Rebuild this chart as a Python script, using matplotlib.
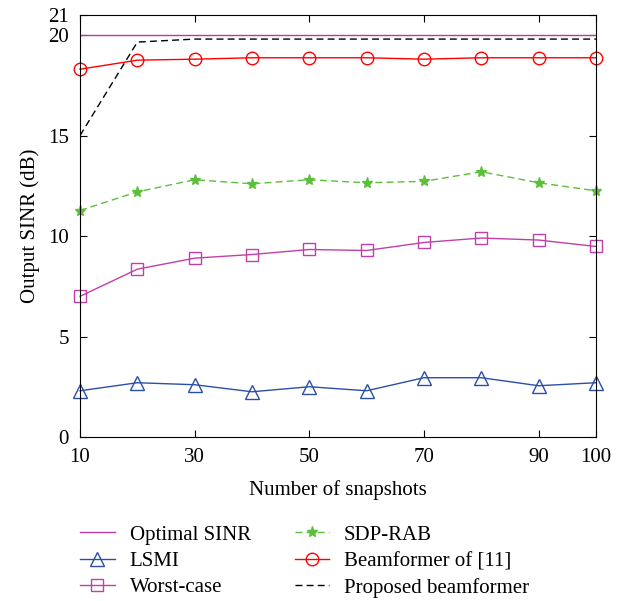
import matplotlib
matplotlib.use("Agg")
import matplotlib.pyplot as plt

plt.rcParams["font.family"] = ["Liberation Serif", "DejaVu Serif"]
plt.rcParams["font.size"] = 15

snapshots = [10, 20, 30, 40, 50, 60, 70, 80, 90, 100]
optimal = [20.0] * 10
lsmi = [2.3, 2.7, 2.6, 2.25, 2.5, 2.3, 2.95, 2.95, 2.55, 2.7]
worst_case = [7.0, 8.35, 8.9, 9.08, 9.33, 9.28, 9.68, 9.9, 9.8, 9.48]
sdp_rab = [11.27, 12.2, 12.8, 12.6, 12.8, 12.65, 12.72, 13.2, 12.65, 12.25]
bf11 = [18.3, 18.75, 18.8, 18.87, 18.87, 18.87, 18.8, 18.87, 18.87, 18.87]
proposed = [15.0, 19.65, 19.8, 19.8, 19.8, 19.8, 19.8, 19.8, 19.8, 19.8]

fig = plt.figure(figsize=(6.31, 6.01), dpi=100)
ax = fig.add_axes([0.1268, 0.2729, 0.8177, 0.7022])

ax.plot(snapshots, optimal, color="#b83ca0", lw=1.0, label="Optimal SINR")
ax.plot(snapshots, sdp_rab, color="#5cbf3a", lw=1.0, ls=(0, (5, 3)), marker="*",
        markersize=8, clip_on=False, label="SDP-RAB")
ax.plot(snapshots, lsmi, color="#2a4fa8", lw=1.0, marker="^", markersize=10,
        markerfacecolor="none", markeredgewidth=1.0, clip_on=False, label="LSMI")
ax.plot(snapshots, bf11, color="#ff0000", lw=1.0, marker="o", markersize=9,
        markerfacecolor="none", markeredgewidth=1.0, clip_on=False,
        label="Beamformer of [11]")
ax.plot(snapshots, worst_case, color="#c040a8", lw=1.0, marker="s", markersize=9,
        markerfacecolor="none", markeredgewidth=1.0, clip_on=False,
        label="Worst-case")
ax.plot(snapshots, proposed, color="black", lw=1.0, ls=(0, (5, 3)),
        label="Proposed beamformer")

ax.set_xlim(10, 100)
ax.set_ylim(0, 21)
ax.set_xticks([10, 30, 50, 70, 90, 100])
ax.set_yticks([0, 5, 10, 15, 20, 21])
ax.tick_params(direction="in", top=True, right=True, length=5, labelsize=15)
ax.tick_params(axis="x", pad=8)
ax.tick_params(axis="y", pad=8)
ax.set_xlabel("Number of snapshots", fontsize=15, labelpad=9)
ax.set_ylabel("Output SINR (dB)", fontsize=15, labelpad=6)

handles, labels = ax.get_legend_handles_labels()
order = ["Optimal SINR", "LSMI", "Worst-case", "SDP-RAB", "Beamformer of [11]",
         "Proposed beamformer"]
hmap = dict(zip(labels, handles))
fig.legend([hmap[k] for k in order], order, loc="upper left",
           bbox_to_anchor=(0.114, 0.14), ncol=2, frameon=False, fontsize=15,
           handlelength=1.65, handletextpad=0.72, columnspacing=2.1,
           labelspacing=0.32, borderaxespad=0)

fig.savefig("out.png", dpi=100)
